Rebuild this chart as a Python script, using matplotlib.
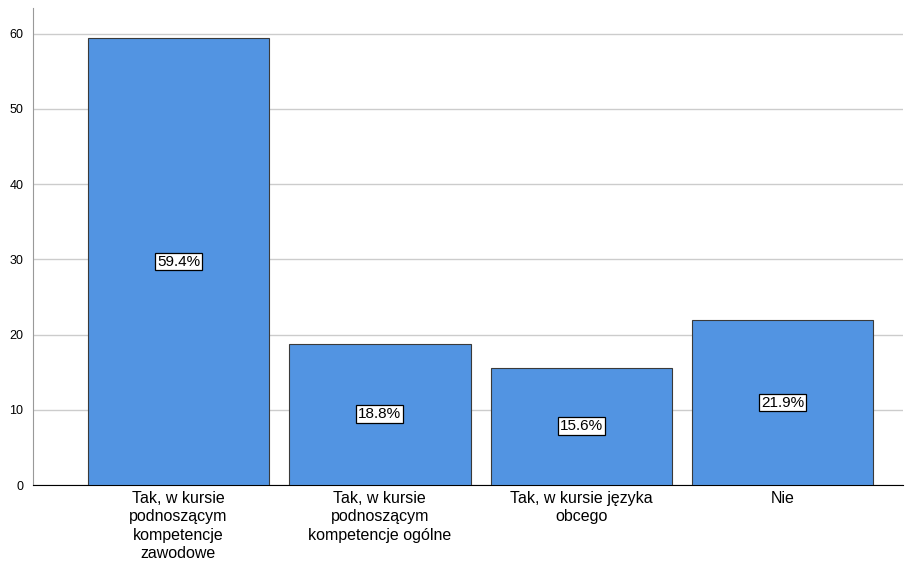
import matplotlib
matplotlib.use("Agg")
import matplotlib.pyplot as plt

categories = ["Tak, w kursie\npodnoszącym\nkompetencje\nzawodowe",
              "Tak, w kursie\npodnoszącym\nkompetencje ogólne",
              "Tak, w kursie języka\nobcego",
              "Nie"]
values = [59.4, 18.8, 15.6, 21.9]
labels = ["59.4%", "18.8%", "15.6%", "21.9%"]
yticks = [0, 10, 20, 30, 40, 50, 60]

plt.rcParams['font.family'] = ['Liberation Sans', 'DejaVu Sans']

fig = plt.figure(figsize=(9.17, 5.66), dpi=100)
ax = fig.add_axes([33/917, 81/566, 870/917, 477/566])

x = list(range(len(values)))
bars = ax.bar(x, values, width=0.9, color='#5294E2', edgecolor='#3a3a3a', linewidth=0.8, zorder=3)
for xi, v, lab in zip(x, values, labels):
    ax.text(xi, v/2, lab, ha='center', va='center', fontsize=11, zorder=4,
            bbox=dict(boxstyle='square,pad=0.12', fc='white', ec='black', lw=0.9))

ax.set_xlim(-0.722, 3.597)
ax.set_ylim(0, 63.4)
ax.set_yticks(yticks)
ax.set_yticklabels([str(t) for t in yticks], fontsize=9)
ax.set_xticks(x)
ax.set_xticklabels(categories, fontsize=11.5, linespacing=1.3, va='top')
ax.tick_params(axis='x', length=0, pad=4)
ax.tick_params(axis='y', length=0, pad=7)
ax.yaxis.grid(True, color='#cccccc', linewidth=1, zorder=0)
ax.set_axisbelow(True)
for s in ['top', 'right']:
    ax.spines[s].set_visible(False)
ax.spines['left'].set_color('#999999')
ax.spines['bottom'].set_color('black')

fig.savefig("out.png", dpi=100)
